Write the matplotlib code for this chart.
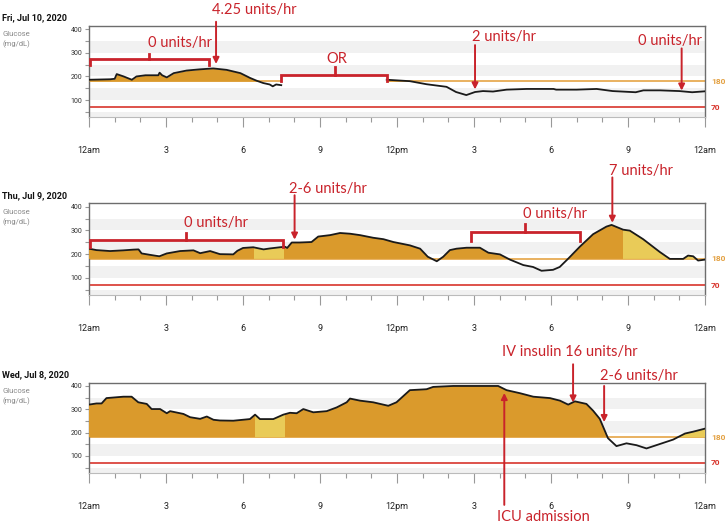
import numpy as np
import matplotlib
matplotlib.use("Agg")
from matplotlib import pyplot as plt
from matplotlib.patches import Rectangle

plt.rcParams["font.family"] = ["Roboto", "DejaVu Sans"]

# ---- data (hours since midnight, glucose mg/dL) ----
fri_t1 = [0, 0.82, 1.0, 1.08, 1.35, 1.67, 1.85, 2.2, 2.7, 2.75, 2.85, 3.03, 3.3, 3.8, 4.3,
          4.84, 5.36, 5.9, 6.27, 6.53, 6.79, 7.04, 7.16, 7.29, 7.49]
fri_g1 = [186, 188, 190, 210, 200, 186, 200, 205, 205, 216, 205, 196, 214, 225, 230,
          234, 228, 214, 194, 182, 172, 166, 158, 166, 163]
fri_t2 = [11.6, 12.5, 13.15, 13.93, 14.3, 14.7, 15.04, 15.35, 15.74, 16.27, 17.05, 18.1,
          18.2, 19.0, 19.78, 20.4, 21.3, 21.6, 22.25, 23.0, 23.5, 24]
fri_g2 = [186, 180, 167, 156, 134, 121, 134, 138, 136, 144, 147, 147,
          144, 144, 147, 138, 133, 141, 141, 138, 133, 137]

thu_t = [0, 0.29, 0.82, 1.34, 1.73, 1.93, 2.05, 2.38, 2.74, 3.03, 3.55, 4.07, 4.33, 4.72,
         5.1, 5.62, 5.78, 6.0, 6.4, 6.8, 7.05, 7.44, 7.64, 7.72, 7.9, 8.2, 8.67, 8.93,
         9.39, 9.78, 10.17, 10.56, 11.07, 11.47, 11.86, 12.5, 12.9, 13.2, 13.55, 13.8,
         14.06, 14.32, 14.71, 15.23, 15.56, 16.01, 16.4, 16.92, 17.3, 17.63, 18.08, 18.34,
         18.67, 19.12, 19.64, 20.16, 20.36, 20.81, 21.07, 21.59, 22.24, 22.63, 23.15,
         23.34, 23.54, 23.73, 24]
thu_g = [223, 217, 213, 216, 219, 220, 203, 197, 191, 203, 213, 216, 204, 213,
         200, 199, 214, 226, 229, 220, 224, 229, 231, 226, 249, 249, 251, 274,
         280, 289, 286, 280, 269, 263, 251, 237, 223, 189, 170, 189,
         217, 223, 227, 227, 206, 199, 177, 154, 146, 130, 134, 146,
         181, 231, 284, 316, 323, 303, 299, 263, 209, 180, 180,
         194, 191, 173, 177]

wed_t = [0, 0.29, 0.49, 0.68, 1.01, 1.34, 1.66, 1.92, 2.25, 2.44, 2.77, 3.03, 3.16, 3.68,
         3.94, 4.33, 4.59, 4.85, 5.1, 5.62, 6.27, 6.47, 6.66, 7.18, 7.57, 7.83, 8.09, 8.35,
         8.74, 9.26, 9.65, 10.04, 10.17, 10.56, 11.07, 11.66, 11.98, 12.5, 13.15, 13.41,
         14.19, 15.94, 16.27, 16.79, 17.31, 17.96, 18.35, 18.67, 18.93, 19.38, 19.64,
         19.9, 20.22, 20.55, 20.94, 21.33, 21.72, 22.24, 22.76, 23.22, 23.54, 24]
wed_g = [320, 325, 325, 348, 351, 354, 354, 330, 323, 301, 301, 283, 292, 280,
         266, 259, 269, 255, 252, 251, 258, 277, 258, 258, 277, 285, 283, 301,
         287, 292, 308, 330, 346, 337, 330, 315, 330, 382, 386, 396,
         400, 400, 382, 369, 354, 348, 337, 320, 334, 323, 294,
         259, 176, 142, 154, 146, 132, 151, 170, 196, 204, 217]

thu_yellow = [(6.42, 7.58), (20.79, 24)]
wed_yellow = [(6.47, 7.62), (21.0, 24)]

titles = ["Fri, Jul 10, 2020", "Thu, Jul 9, 2020", "Wed, Jul 8, 2020"]
hour_ticks = [0, 3, 6, 9, 12, 15, 18, 21, 24]
hour_labels = ["12am", "3", "6", "9", "12pm", "3", "6", "9", "12am"]
high, low = 180, 70

# annotations: (text, x, y) ; arrows: (x, y_from, y_to) ; brackets: (x0, x1, xm, tip, bar, top)
fri_text = [("0 units/hr", 3.55, 343), ("4.25 units/hr", 6.44, 482), ("OR", 9.67, 273),
            ("2 units/hr", 16.17, 366), ("0 units/hr", 22.65, 352)]
fri_arrows = [(4.95, 432, 253), (15.04, 333, 145), (23.09, 319, 140)]
fri_brackets = [(0.03, 4.69, 2.35, 248, 276, 294), (7.48, 11.6, 9.58, 181, 205, 238)]

thu_text = [("0 units/hr", 4.94, 329), ("2-6 units/hr", 9.31, 476),
            ("0 units/hr", 18.17, 367), ("7 units/hr", 21.5, 551)]
thu_arrows = [(8.01, 448, 261), (20.39, 523, 332)]
thu_brackets = [(0.03, 7.54, 3.77, 230, 258, 287), (14.9, 19.13, 17.0, 257, 292, 325)]

wed_text = [("IV insulin 16 units/hr", 18.74, 544), ("2-6 units/hr", 21.43, 442),
            ("ICU admission", 17.69, -160)]
wed_arrows = [(18.86, 493, 329), (20.07, 400, 245), (16.18, -110, 370)]
wed_brackets = []

ORANGE = "#DA9A2C"
YELLOW = "#E9CB58"
LINE180 = "#E5A445"
RED = "#D8352C"
ANN = "#C9232B"

fig = plt.figure(figsize=(7.28, 5.22), dpi=100)
W, H = 728.0, 522.0


def make_axes(top_px, bottom_px):
    return fig.add_axes([89 / W, 1 - bottom_px / H, 616 / W, (bottom_px - top_px) / H])


axes = [make_axes(26, 117), make_axes(203.3, 295), make_axes(382.7, 472.7)]


def panel(ax, segments, yellow, title):
    ax.set_xlim(0, 24)
    ax.set_ylim(28, 414)
    for lo in (0, 100, 200, 300):
        ax.axhspan(lo, lo + 50, color="#F1F1F1", lw=0, zorder=0)
    ax.axhline(low, color=RED, lw=1.2, zorder=2)
    for t, g in segments:
        t = np.array(t, float)
        g = np.array(g, float)
        ax.hlines(high, t.min(), t.max(), color=LINE180, lw=1.2, zorder=2)
        ax.fill_between(t, high, g, where=g > high, interpolate=True,
                        color=ORANGE, lw=0, zorder=3)
        for x0, x1 in yellow:
            pc = ax.fill_between(t, high, g, where=g > high, interpolate=True,
                                 color=YELLOW, lw=0, zorder=3.5)
            pc.set_clip_path(Rectangle((x0, 0), x1 - x0, 1000, transform=ax.transData))
        ax.plot(t, g, color="#1a1a1a", lw=1.3, zorder=4)

    ax.set_xticks(hour_ticks)
    ax.set_xticklabels(hour_labels)
    ax.set_xticks(range(25), minor=True)
    ax.set_yticks([100, 200, 300, 400])
    ax.set_yticks([50, 150, 250, 350], minor=True)
    ax.tick_params(axis="x", which="major", length=7, width=0.8, color="#999999",
                   pad=14, labelsize=6.5, labelcolor="#222222")
    ax.tick_params(axis="x", which="minor", length=3.5, width=0.8, color="#999999")
    ax.tick_params(axis="y", which="both", length=3, width=0.8, color="#999999",
                   pad=2, labelsize=5, labelcolor="#333333")
    for s in ("top", "right", "left"):
        ax.spines[s].set_color("#6d6d6d")
        ax.spines[s].set_linewidth(1.0)
    ax.spines["bottom"].set_color("#bbbbbb")
    ax.spines["bottom"].set_linewidth(0.8)

    trans = ax.get_yaxis_transform()
    ax.text(1.01, high, "180", transform=trans, color="#E3A040", fontsize=6,
            fontweight="bold", va="center", ha="left")
    ax.text(1.01, low, "70", transform=trans, color=RED, fontsize=6,
            fontweight="bold", va="center", ha="left")

    pos = ax.get_position()
    fig.text(0.003, pos.y1 + 8 / H, title, fontsize=6.5, fontweight="bold",
             va="center", ha="left", color="#111111")
    fig.text(0.003, pos.y1 - 8.5 / H, "Glucose", fontsize=5.5, color="#888888",
             va="center", ha="left")
    fig.text(0.003, pos.y1 - 18.5 / H, "(mg/dL)", fontsize=5.5, color="#888888",
             va="center", ha="left")


def annotate(ax, texts, arrows, brackets):
    for s, x, y in texts:
        ax.text(x, y, s, color=ANN, fontsize=10.5, family="Lato", ha="center",
                va="center", clip_on=False, zorder=6)
    for x, y0, y1 in arrows:
        ax.annotate("", xy=(x, y1), xytext=(x, y0), annotation_clip=False, zorder=6,
                    arrowprops=dict(arrowstyle="-|>", color=ANN, lw=1.4,
                                    mutation_scale=9, shrinkA=0, shrinkB=0))
    for x0, x1, xm, tip, bar, top in brackets:
        ax.plot([x0, x0, x1, x1], [tip, bar, bar, tip], color=ANN, lw=2,
                clip_on=False, zorder=6, solid_joinstyle="miter")
        ax.plot([xm, xm], [bar, top], color=ANN, lw=2, clip_on=False, zorder=6)


panel(axes[0], [(fri_t1, fri_g1), (fri_t2, fri_g2)], [], titles[0])
panel(axes[1], [(thu_t, thu_g)], thu_yellow, titles[1])
panel(axes[2], [(wed_t, wed_g)], wed_yellow, titles[2])

annotate(axes[0], fri_text, fri_arrows, fri_brackets)
annotate(axes[1], thu_text, thu_arrows, thu_brackets)
annotate(axes[2], wed_text, wed_arrows, wed_brackets)

plt.savefig("out.png", dpi=100)
